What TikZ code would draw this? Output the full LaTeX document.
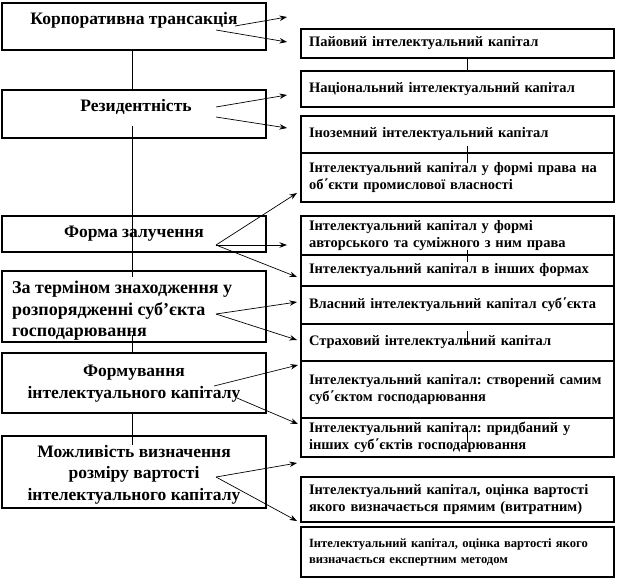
\documentclass[tikz,border=0pt]{standalone}
\usepackage{fontspec}
\setmainfont{Liberation Serif}
\usetikzlibrary{arrows.meta}
\frenchspacing
\begin{document}
\begin{tikzpicture}[x=1pt,y=-1pt,
  lbox/.style={draw,line width=1.1pt,fill=white,minimum width=264pt,inner sep=0pt},
  ltext/.style={font=\fontsize{17.5}{21.5}\selectfont\bfseries,align=center,inner sep=0pt},
  rbox/.style={draw,line width=1.1pt,fill=white,text width=297pt,inner xsep=8pt,inner ysep=0pt,align=left,
    font=\fontsize{14.5}{17.5}\selectfont\bfseries},
  arr/.style={line width=0.7pt,-{Stealth[length=7.5pt,width=5.5pt]}},
  tick/.style={line width=0.8pt}]
\useasboundingbox (0,0) rectangle (620,579);
% left column vertical line segments
\coordinate (v1) at (132,126); \coordinate (v2) at (132,277);
\coordinate (v3) at (132,335); \coordinate (v4) at (132,413); \coordinate (v5) at (132,445);
% left boxes
\node[lbox,minimum height=47pt] (l1) at (134,26.5) {};
\node[lbox,minimum height=48pt] (l2) at (134,114) {};
\node[lbox,minimum height=36pt] (l3) at (134,234) {};
\node[lbox,minimum height=71pt] (l4) at (134,306.5) {};
\node[lbox,minimum height=60pt] (l5) at (134,383) {};
\node[lbox,minimum height=72pt] (l6) at (134,472) {};
\draw[tick] (l1.south -| v1) -- (l2.north -| v1);
\draw[tick] (v1) -- (v2);
\draw[tick] (v3) -- (l5.north -| v3);
\draw[tick] (v4) -- (v5);
\node[ltext] (t1) at (134,20) {Корпоративна трансакція};
\node[ltext] (t2) at (136,107) {Резидентність};
\node[ltext] (t3) at (134,234) {Форма залучення};
\node[ltext,align=left,anchor=west,font=\fontsize{18}{21.5}\selectfont\bfseries] (t4) at (12,311) {За терміном знаходження у\\розпорядженні суб’єкта\\господарювання};
\node[ltext] (t5) at (134,383.5) {Формування\\інтелектуального капіталу};
\node[ltext] (t6) at (134,474.5) {Можливість визначення\\розміру вартості\\інтелектуального капіталу};
% right boxes
\node[rbox,minimum height=29pt] (r1) at (457.5,43.5) {Пайовий інтелектуальний капітал};
\node[rbox,minimum height=36pt] (r2) at (457.5,89) {Національний інтелектуальний капітал};
\node[rbox,minimum height=37pt] (r3) at (457.5,134.5) {Іноземний інтелектуальний капітал};
\node[rbox,minimum height=49pt] (r4) at (457.5,177.5) {Інтелектуальний капітал у формі права на\\об΄єкти промислової власності};
\node[rbox,minimum height=39pt] (r5) at (457.5,235.5) {Інтелектуальний капітал у формі\\авторського та суміжного з ним права};
\node[rbox,minimum height=31pt] (r6) at (457.5,270.5) {Інтелектуальний капітал в інших формах};
\node[rbox,minimum height=38pt] (r7) at (457.5,305) {Власний інтелектуальний капітал суб΄єкта};
\node[rbox,minimum height=37pt] (r8) at (457.5,342.5) {Страховий інтелектуальний капітал};
\node[rbox,minimum height=57pt] (r9) at (457.5,389.5) {Інтелектуальний капітал: створений самим\\суб΄єктом господарювання};
\node[rbox,minimum height=39pt] (r10) at (457.5,437.5) {Інтелектуальний капітал: придбаний у\\інших суб΄єктів господарювання};
\node[rbox,minimum height=45pt] (r11) at (457.5,499.5) {Інтелектуальний капітал, оцінка вартості\\якого визначається прямим (витратним)};
\node[rbox,minimum height=50pt,font=\fontsize{12.6}{16}\selectfont\bfseries] (r12) at (457.5,552) {Інтелектуальний капітал, оцінка вартості якого\\визначається експертним методом};
% right ticks
\coordinate (x) at (467,0);
\draw[tick] (r1.south -| x) -- (r2.north -| x);
\draw[tick] (467,146) -- (467,163);
\draw[tick] (467,250) -- (467,262);
\draw[tick] (467,331) -- (467,345);
\draw[tick] (467,428) -- (467,443);
% arrow start and end points
\coordinate (s1a) at (235,26); \coordinate (s1b) at (216,30);
\coordinate (e1a) at (287,17); \coordinate (e1b) at (287,42);
\coordinate (s2a) at (216,107); \coordinate (s2b) at (216,117);
\coordinate (e2a) at (287,95); \coordinate (e2b) at (287,128);
\coordinate (s3) at (216,245);
\coordinate (e3a) at (297,193); \coordinate (e3b) at (287,245); \coordinate (e3c) at (297,277);
\coordinate (s4) at (216,314);
\coordinate (e4a) at (297,302); \coordinate (e4b) at (297,340);
\coordinate (s5a) at (214,386); \coordinate (s5b) at (237,398);
\coordinate (e5a) at (298,365); \coordinate (e5b) at (298,424);
\coordinate (s6) at (216,477);
\coordinate (e6a) at (297,463); \coordinate (e6b) at (297,521);
\draw[arr] (s1a) -- (e1a);
\draw[arr] (s1b) -- (e1b);
\draw[arr] (s2a) -- (e2a);
\draw[arr] (s2b) -- (e2b);
\draw[arr] (s3) -- (e3a);
\draw[arr] (s3) -- (e3b);
\draw[arr] (s3) -- (e3c);
\draw[arr] (s4) -- (e4a);
\draw[arr] (s4) -- (e4b);
\draw[arr] (s5a) -- (e5a);
\draw[arr] (s5b) -- (e5b);
\draw[arr] (s6) -- (e6a);
\draw[arr] (s6) -- (e6b);
\end{tikzpicture}
\end{document}
